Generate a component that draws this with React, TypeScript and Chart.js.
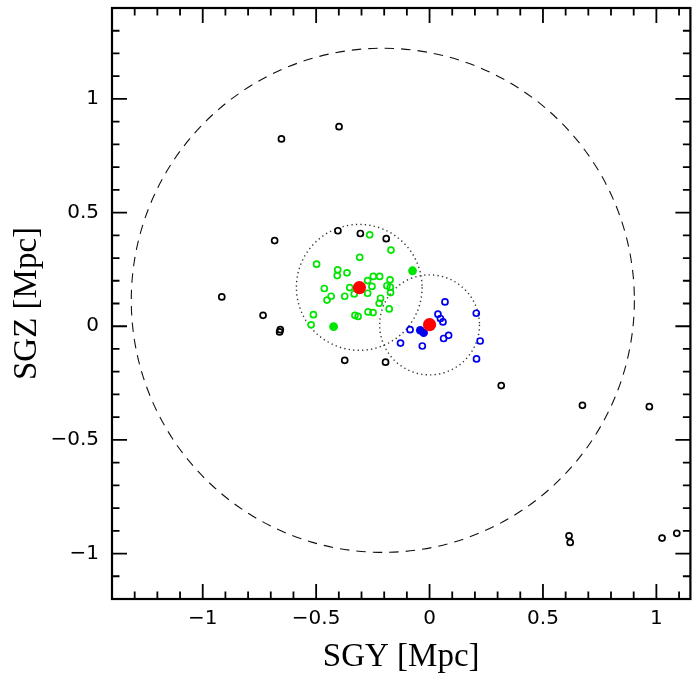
import React, { useEffect, useRef } from "react";
import { Chart, registerables } from "chart.js";

Chart.register(...registerables);

// ---- data (SGY, SGZ in Mpc) ----
const blackSGY = [-0.653, -0.399, -0.683, -0.404, -0.305, -0.191, -0.916, -0.734, -0.658, -0.661, -0.374, -0.194, 0.316, 0.674, 0.969, 0.615, 0.62, 1.025, 1.09];
const blackSGZ = [0.824, 0.878, 0.377, 0.42, 0.408, 0.385, 0.129, 0.048, -0.015, -0.025, -0.15, -0.158, -0.261, -0.348, -0.354, -0.922, -0.951, -0.932, -0.911];

const greenSGY = [-0.264, -0.17, -0.308, -0.498, -0.405, -0.407, -0.364, -0.248, -0.22, -0.273, -0.174, -0.188, -0.173, -0.254, -0.464, -0.352, -0.273, -0.172, -0.434, -0.452, -0.374, -0.332, -0.216, -0.222, -0.178, -0.512, -0.329, -0.315, -0.271, -0.249, -0.522];
const greenSGZ = [0.402, 0.335, 0.303, 0.273, 0.248, 0.223, 0.235, 0.219, 0.219, 0.201, 0.204, 0.178, 0.172, 0.175, 0.166, 0.17, 0.145, 0.148, 0.132, 0.115, 0.132, 0.142, 0.123, 0.101, 0.076, 0.051, 0.048, 0.043, 0.063, 0.06, 0.006];

const blueSGY = [0.068, 0.206, 0.037, 0.048, 0.059, -0.086, 0.084, 0.062, 0.223, -0.128, -0.032, 0.207];
const blueSGZ = [0.107, 0.057, 0.053, 0.034, 0.019, -0.015, -0.04, -0.054, -0.065, -0.074, -0.087, -0.144];

const greenBigSGY = [-0.423, -0.075];
const greenBigSGZ = [-0.002, 0.244];

const blueBigSGY = [-0.041, -0.026];
const blueBigSGZ = [-0.018, -0.029];

const redSGY = [-0.309, 0.0];
const redSGZ = [0.17, 0.007];

// circles: center and radius in Mpc
const circleSGY = [-0.206, -0.31, 0.0];
const circleSGZ = [0.114, 0.171, 0.006];
const circleR = [1.109, 0.277, 0.22];
const circleKind = ["dashed", "dotted", "dotted"];

const xTickValues = [-1, -0.5, 0, 0.5, 1];
const yTickValues = [-1, -0.5, 0, 0.5, 1];
const xRange = [-1.4, 1.15];
const yRange = [-1.2, 1.4];

const fmt = (v: number) => (v < 0 ? "\u2212" + String(Math.abs(v)) : String(v));
const pts = (xs: number[], ys: number[]) => xs.map((x, i) => ({ x, y: ys[i] }));

const framePlugin = {
  id: "framePlugin",
  beforeDatasetsDraw(chart: any) {
    const { ctx, chartArea: a, scales } = chart;
    const sx = scales.x;
    const sy = scales.y;
    ctx.save();
    ctx.beginPath();
    ctx.rect(a.left, a.top, a.right - a.left, a.bottom - a.top);
    ctx.clip();
    for (let i = 0; i < circleR.length; i++) {
      const cx = sx.getPixelForValue(circleSGY[i]);
      const cy = sy.getPixelForValue(circleSGZ[i]);
      const rx = Math.abs(sx.getPixelForValue(circleSGY[i] + circleR[i]) - cx);
      const ry = Math.abs(sy.getPixelForValue(circleSGZ[i] + circleR[i]) - cy);
      if (circleKind[i] === "dashed") {
        ctx.setLineDash([9.5, 7]);
        ctx.lineWidth = 1.1;
        ctx.strokeStyle = "#111";
      } else {
        ctx.setLineDash([1.3, 3.2]);
        ctx.lineWidth = 1.4;
        ctx.strokeStyle = "#333";
      }
      ctx.beginPath();
      ctx.ellipse(cx, cy, rx, ry, 0, 0, Math.PI * 2);
      ctx.stroke();
    }
    ctx.restore();
  },
  afterDraw(chart: any) {
    const { ctx, chartArea: a, scales } = chart;
    const sx = scales.x;
    const sy = scales.y;
    ctx.save();
    ctx.strokeStyle = "#000";
    ctx.setLineDash([]);
    ctx.lineWidth = 1.8;
    const major = 15;
    const minor = 7.5;
    for (let k = -14; k <= 11; k++) {
      const v = k / 10;
      const px = sx.getPixelForValue(v);
      if (px <= a.left + 1 || px >= a.right - 1) continue;
      const len = k % 5 === 0 ? major : minor;
      ctx.beginPath();
      ctx.moveTo(px, a.bottom);
      ctx.lineTo(px, a.bottom - len);
      ctx.moveTo(px, a.top);
      ctx.lineTo(px, a.top + len);
      ctx.stroke();
    }
    for (let k = -12; k <= 14; k++) {
      const v = k / 10;
      const py = sy.getPixelForValue(v);
      if (py <= a.top + 1 || py >= a.bottom - 1) continue;
      const len = k % 5 === 0 ? major : minor;
      ctx.beginPath();
      ctx.moveTo(a.left, py);
      ctx.lineTo(a.left + len, py);
      ctx.moveTo(a.right, py);
      ctx.lineTo(a.right - len, py);
      ctx.stroke();
    }
    ctx.lineWidth = 2.2;
    ctx.strokeRect(a.left, a.top, a.right - a.left, a.bottom - a.top);
    ctx.restore();
  },
};

const tickFont = { family: "DejaVu Sans", size: 20 };
const titleFont = { family: "Liberation Serif", size: 33 };

const zeroPad = (s: any) => {
  s.paddingTop = 0;
  s.paddingBottom = 0;
  s.paddingLeft = 0;
  s.paddingRight = 0;
};

export default function App() {
  const ref = useRef<HTMLCanvasElement | null>(null);
  useEffect(() => {
    if (!ref.current) return;
    const openDs = (label: string, xs: number[], ys: number[], color: string, order: number) => ({
      label,
      data: pts(xs, ys),
      pointRadius: 3,
      pointBorderWidth: 1.7,
      pointBorderColor: color,
      pointBackgroundColor: "rgba(0,0,0,0)",
      showLine: false,
      order,
    });
    const filledDs = (label: string, xs: number[], ys: number[], color: string, r: number, order: number) => ({
      label,
      data: pts(xs, ys),
      pointRadius: r,
      pointBorderWidth: 0,
      pointBorderColor: color,
      pointBackgroundColor: color,
      showLine: false,
      order,
    });
    const chart = new Chart(ref.current, {
      type: "scatter",
      data: {
        datasets: [
          filledDs("red", redSGY, redSGZ, "#ff0000", 6.6, 0),
          filledDs("blueBig", blueBigSGY, blueBigSGZ, "#0000ee", 4.3, 1),
          filledDs("greenBig", greenBigSGY, greenBigSGZ, "#00e600", 4.4, 1),
          openDs("blue", blueSGY, blueSGZ, "#0000ee", 2),
          openDs("green", greenSGY, greenSGZ, "#00e600", 3),
          openDs("black", blackSGY, blackSGZ, "#000000", 4),
        ] as any,
      },
      options: {
        responsive: false,
        animation: false,
        events: [],
        layout: { autoPadding: false, padding: { top: 8, right: 1.6, left: 0, bottom: 0 } },
        plugins: { legend: { display: false }, tooltip: { enabled: false } },
        scales: {
          x: {
            type: "linear",
            min: xRange[0],
            max: xRange[1],
            afterBuildTicks: (s: any) => {
              s.ticks = xTickValues.map((v) => ({ value: v }));
            },
            afterFit: (s: any) => {
              s.height = 79;
              zeroPad(s);
            },
            grid: { display: false, drawTicks: false },
            border: { display: false },
            ticks: {
              padding: 8,
              font: tickFont,
              color: "#000",
              maxRotation: 0,
              autoSkip: false,
              callback: (v: any) => fmt(Number(v)),
            },
            title: {
              display: true,
              text: "SGY [Mpc]",
              font: titleFont,
              color: "#000",
              padding: { top: 0, bottom: 1 },
            },
          },
          y: {
            type: "linear",
            min: yRange[0],
            max: yRange[1],
            afterBuildTicks: (s: any) => {
              s.ticks = yTickValues.map((v) => ({ value: v }));
            },
            afterFit: (s: any) => {
              s.width = 112;
              zeroPad(s);
            },
            grid: { display: false, drawTicks: false },
            border: { display: false },
            ticks: {
              padding: 13,
              font: tickFont,
              color: "#000",
              autoSkip: false,
              callback: (v: any) => fmt(Number(v)),
            },
            title: {
              display: true,
              text: "SGZ [Mpc]",
              font: titleFont,
              color: "#000",
              padding: { top: 8, bottom: 0 },
            },
          },
        },
      } as any,
      plugins: [framePlugin],
    });
    return () => chart.destroy();
  }, []);
  return (
    <div style={{ position: "fixed", left: 0, top: 0, width: 692, height: 678, background: "#fff" }}>
      <canvas ref={ref} width={692} height={678} style={{ display: "block", width: 692, height: 678 }} />
    </div>
  );
}
